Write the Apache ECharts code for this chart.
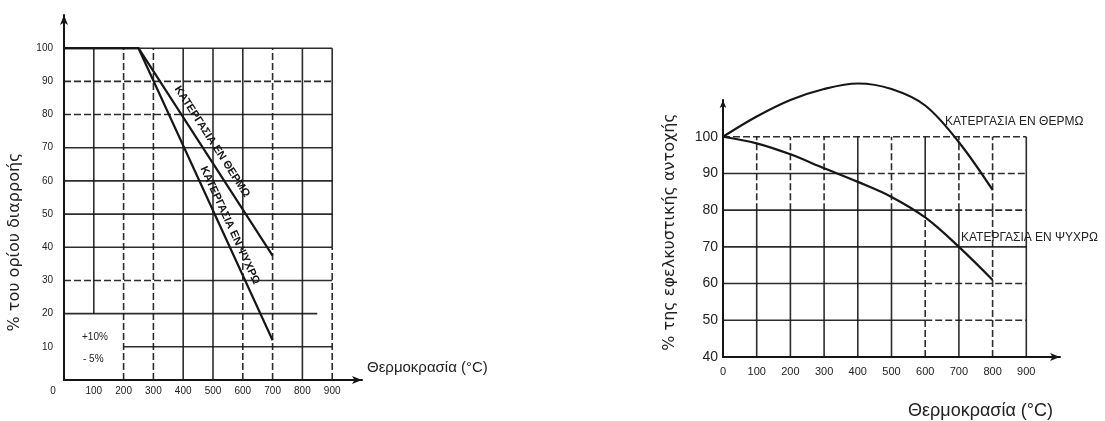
<!DOCTYPE html>
<html>
<head>
<meta charset="utf-8">
<script src="https://cdn.jsdelivr.net/npm/echarts@6/dist/echarts.min.js"></script>
<style>
  html, body { margin: 0; padding: 0; background: #fff; }
  #c { width: 1105px; height: 421px; }
</style>
</head>
<body>
<div id="c"></div>
<script>
// Tick values shared by both panels
const tempTicks = [0, 100, 200, 300, 400, 500, 600, 700, 800, 900];
const yieldTicks = [10, 20, 30, 40, 50, 60, 70, 80, 90, 100];
const tensileTicks = [40, 50, 60, 70, 80, 90, 100];

// Yield strength (% of initial) against temperature
const yieldTemp = [0, 250, 700];
const yieldHot = [100, 100, 37.5];
const yieldCold = [100, 100, 12];

// Tensile strength (%) against temperature
const tensileTemp = [0, 100, 200, 300, 400, 500, 600, 700, 800];
const tensileHot = [100, 105.5, 110, 113, 114.5, 113, 108.5, 98.5, 85.5];
const tensileCold = [100, 98.2, 95.2, 91.4, 87.7, 83.6, 78, 70, 61];

// Texts
const hotLabel = 'ΚΑΤΕΡΓΑΣΙΑ ΕΝ ΘΕΡΜΩ';
const coldLabel = 'ΚΑΤΕΡΓΑΣΙΑ ΕΝ ΨΥΧΡΩ';
const tempName = 'Θερμοκρασία (°C)';
const yieldName = '% του ορίου διαρροής';
const tensileName = '% της εφελκυστικής αντοχής';
const toleranceNotes = ['+10%', '- 5%'];

const INK = '#161616';
const FONT = '"Liberation Sans", "DejaVu Sans", sans-serif';
const WIDE = '"DejaVu Sans", sans-serif';
const DASH = [7, 3];

const zip = (xs, ys) => xs.map((x, i) => [x, ys[i]]);

// one straight grid stroke in data coordinates of panel g
function seg(g, a, b, dashed) {
  return {
    type: 'line', xAxisIndex: g, yAxisIndex: g, data: [a, b],
    symbol: 'none', silent: true, z: 1, animation: false,
    lineStyle: { color: INK, width: 1.6, type: dashed ? DASH : 'solid', opacity: 0.9 }
  };
}

const gridSeries = [];
const tMax = tempTicks[tempTicks.length - 1];
const yTop = yieldTicks[yieldTicks.length - 1];
const tTop = tensileTicks[tensileTicks.length - 1];
const tBot = tensileTicks[0];

// left panel grid
yieldTicks.forEach(p => {
  if (p === 10) gridSeries.push(seg(0, [200, p], [tMax, p], false));
  else if (p === 20) gridSeries.push(seg(0, [0, p], [850, p], false));
  else if (p === 90) gridSeries.push(seg(0, [0, p], [tMax, p], true));
  else if (p === 80 || p === 30) {
    gridSeries.push(seg(0, [0, p], [400, p], true));
    gridSeries.push(seg(0, [400, p], [tMax, p], false));
  } else gridSeries.push(seg(0, [0, p], [tMax, p], false));
});
tempTicks.filter(t => t > 0).forEach(t => {
  if (t === 100) gridSeries.push(seg(0, [t, 20], [t, yTop], false));
  else if (t === 200 || t === 300 || t === 700) gridSeries.push(seg(0, [t, 0], [t, yTop], true));
  else if (t === 600 || t === 900) {
    gridSeries.push(seg(0, [t, 0], [t, 40], true));
    gridSeries.push(seg(0, [t, 40], [t, yTop], false));
  } else gridSeries.push(seg(0, [t, 0], [t, yTop], false));
});

// right panel grid
tensileTicks.filter(p => p > tBot).forEach(p => {
  if (p === 100) gridSeries.push(seg(1, [0, p], [tMax, p], true));
  else if (p === 70) gridSeries.push(seg(1, [0, p], [tMax, p], false));
  else {
    const cut = p === 90 ? 400 : 600;
    gridSeries.push(seg(1, [0, p], [cut, p], false));
    gridSeries.push(seg(1, [cut, p], [tMax, p], true));
  }
});
tempTicks.filter(t => t > 0).forEach(t => {
  const lowDashed = (t === 600 || t === 800);
  const upDashed = !(t === 400 || t === 600 || t === 900);
  gridSeries.push(seg(1, [t, tBot], [t, 80], lowDashed));
  gridSeries.push(seg(1, [t, 80], [t, tTop], upDashed));
});

function curve(g, xs, ys, smooth) {
  return {
    type: 'line', xAxisIndex: g, yAxisIndex: g, data: zip(xs, ys),
    symbol: 'none', smooth: smooth || false, clip: false, z: 3, animation: false,
    lineStyle: { color: INK, width: 2.2 }
  };
}

function xAxisCfg(g, label) {
  return {
    type: 'value', gridIndex: g, min: 0, max: 1000, interval: 100,
    axisLine: { show: true, symbol: ['none', 'arrow'], symbolSize: [6, 10],
      lineStyle: { color: INK, width: 2 } },
    axisTick: { show: false }, splitLine: { show: false },
    axisLabel: Object.assign({ color: '#222', fontFamily: FONT }, label)
  };
}

const chart = echarts.init(document.getElementById('c'), null, { renderer: 'canvas' });

chart.setOption({
  backgroundColor: '#ffffff',
  animation: false,
  grid: [
    { left: 64, top: 15, width: 298, height: 365 },
    { left: 723, top: 100, width: 337, height: 257 }
  ],
  xAxis: [
    xAxisCfg(0, {
      fontSize: 10, margin: 6,
      formatter: v => v >= 1000 ? '' : (v === 0 ? '{z|0}' : String(v)),
      rich: { z: { fontSize: 10, color: '#222', padding: [0, 22, 0, 0] } }
    }),
    xAxisCfg(1, {
      fontSize: 11, margin: 9,
      formatter: v => v >= 1000 ? '' : String(v)
    })
  ],
  yAxis: [
    {
      type: 'value', gridIndex: 0, min: 0, max: 110, interval: 10,
      axisLine: { show: true, symbol: ['none', 'arrow'], symbolSize: [6, 10],
        lineStyle: { color: INK, width: 2 } },
      axisTick: { show: false }, splitLine: { show: false },
      axisLabel: { fontSize: 10, margin: 11, color: '#222', fontFamily: FONT,
        formatter: v => (v === 0 || v > 100) ? '' : String(v) }
    },
    {
      type: 'value', gridIndex: 1, min: 40, max: 110, interval: 10,
      axisLine: { show: true, symbol: ['none', 'arrow'], symbolSize: [5, 8],
        lineStyle: { color: INK, width: 2 } },
      axisTick: { show: false }, splitLine: { show: false },
      axisLabel: { fontSize: 14, margin: 5, color: '#222', fontFamily: FONT,
        formatter: v => v > 100 ? '' : String(v) }
    }
  ],
  series: gridSeries.concat([
    curve(0, yieldTemp, yieldHot),
    curve(0, yieldTemp, yieldCold),
    curve(1, tensileTemp, tensileHot, 0.35),
    curve(1, tensileTemp, tensileCold, 0.35)
  ])
});

// text that runs along a straight stretch of the left panel
function alongLine(text, xs, ys, frac, off) {
  const a = chart.convertToPixel({ xAxisIndex: 0, yAxisIndex: 0 }, [xs[1], ys[1]]);
  const b = chart.convertToPixel({ xAxisIndex: 0, yAxisIndex: 0 }, [xs[2], ys[2]]);
  const dx = b[0] - a[0], dy = b[1] - a[1];
  const len = Math.hypot(dx, dy);
  const ux = dx / len, uy = dy / len;
  return {
    type: 'text',
    x: a[0] + dx * frac + uy * off,
    y: a[1] + dy * frac - ux * off,
    rotation: -Math.atan2(dy, dx),
    style: { text, fill: INK, font: 'bold 11px ' + FONT, align: 'center', verticalAlign: 'middle' },
    z: 10
  };
}

function txt(text, x, y, font) {
  return { type: 'text', x, y, z: 10,
    style: { text, fill: '#222', font, align: 'left', verticalAlign: 'middle' } };
}

function vtxt(text, x, y, font) {
  return { type: 'text', x, y, z: 10, rotation: Math.PI / 2,
    style: { text, fill: '#222', font, align: 'center', verticalAlign: 'middle' } };
}

chart.setOption({
  graphic: [
    alongLine(hotLabel, yieldTemp, yieldHot, 0.48, 11),
    alongLine(coldLabel, yieldTemp, yieldCold, 0.62, 9),
    txt(toleranceNotes[0], 82, 337, '10px ' + FONT),
    txt(toleranceNotes[1], 83, 359, '10px ' + FONT),
    txt(tempName, 367, 368, '15px ' + FONT),
    txt(tempName, 908, 411, '18px ' + FONT),
    vtxt(yieldName, 15, 242, '16px ' + WIDE),
    vtxt(tensileName, 670, 232, '16px ' + WIDE),
    txt(hotLabel, 945, 122, '12px ' + FONT),
    txt(coldLabel, 961, 238, '12px ' + FONT)
  ]
});
</script>
</body>
</html>
